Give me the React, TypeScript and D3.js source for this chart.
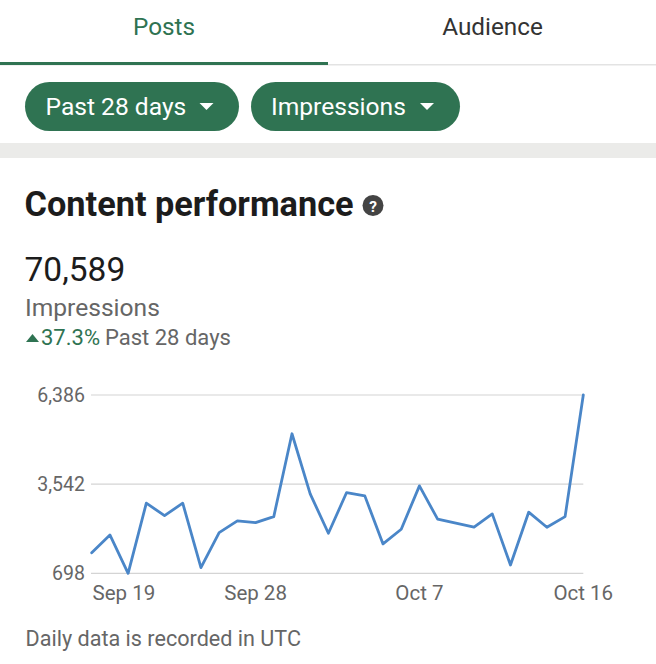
import React from "react";
import * as d3 from "d3";

const dates = [
  "Sep 19","Sep 20","Sep 21","Sep 22","Sep 23","Sep 24","Sep 25","Sep 26","Sep 27","Sep 28",
  "Sep 29","Sep 30","Oct 1","Oct 2","Oct 3","Oct 4","Oct 5","Oct 6","Oct 7","Oct 8",
  "Oct 9","Oct 10","Oct 11","Oct 12","Oct 13","Oct 14","Oct 15","Oct 16",
];
const impressions = [
  1356, 1922, 698, 2935, 2539, 2935, 877, 1995, 2369, 2315,
  2507, 5149, 3232, 1976, 3274, 3168, 1635, 2104, 3488, 2424,
  2296, 2168, 2593, 964, 2647, 2168, 2507, 6386,
];
const yTicks = [698, 3542, 6386];
const xTickLabels = ["Sep 19", "Sep 28", "Oct 7", "Oct 16"];

const FONT = "Roboto, 'Noto Sans', sans-serif";
const GREEN = "#2f7352";

export default function App() {
  const x = d3.scalePoint<string>().domain(dates).range([91.7, 583.3]);
  const y = d3.scaleLinear().domain([698, 6386]).range([573.3, 395]);
  const line = d3
    .line<number>()
    .x((_, i) => x(dates[i]) as number)
    .y((d) => y(d));
  const fmt = d3.format(",");

  return (
    <svg
      width={656}
      height={664}
      style={{ position: "absolute", left: 0, top: 0, fontFamily: FONT }}
    >
      <rect x={0} y={0} width={656} height={664} fill="#ffffff" />
      {/* Tabs */}
      <text x={164} y={35} textAnchor="middle" fontSize={24.3} fill={GREEN}>
        Posts
      </text>
      <text x={492.5} y={35} textAnchor="middle" fontSize={24.3} fill="#333333">
        Audience
      </text>
      <rect x={0} y={64} width={656} height={1.5} fill="#e3e3e3" />
      <rect x={0} y={62} width={328} height={3} fill={GREEN} />

      {/* Pills */}
      <rect x={25} y={82} width={214} height={49} rx={24.5} fill={GREEN} />
      <text x={45.5} y={115} fontSize={24.6} fill="#ffffff">
        Past 28 days
      </text>
      <path d="M199.5,103 L213.5,103 L206.5,110 Z" fill="#ffffff" />
      <rect x={251} y={82} width={209} height={49} rx={24.5} fill={GREEN} />
      <text x={271} y={115} fontSize={24.6} fill="#ffffff">
        Impressions
      </text>
      <path d="M420,103 L434,103 L427,110 Z" fill="#ffffff" />

      {/* Gray band */}
      <rect x={0} y={143} width={656} height={15} fill="#ebebe9" />

      {/* Header */}
      <text x={24.5} y={215.5} fontSize={34.3} fontWeight="bold" fill="#1c1c1c">
        Content performance
      </text>
      <circle cx={373} cy={205.5} r={10.5} fill="#444444" />
      <text x={373} y={211.5} textAnchor="middle" fontSize={15.5} fontWeight="bold" fill="#ffffff">
        ?
      </text>

      <text x={24.5} y={281} fontSize={33.5} fill="#1c1c1c">
        70,589
      </text>
      <text x={25} y={316} fontSize={24.6} fill="#666666">
        Impressions
      </text>
      <path d="M26,342 L39,342 L32.5,334 Z" fill={GREEN} />
      <text x={41} y={344.5} fontSize={22} fill={GREEN}>
        37.3%
      </text>
      <text x={105} y={344.5} fontSize={22} fill="#666666">
        Past 28 days
      </text>

      {/* Grid + y labels */}
      {yTicks.map((t) => (
        <g key={t}>
          <line
            x1={91}
            x2={583.3}
            y1={y(t)}
            y2={y(t)}
            stroke="#d4d4d4"
            strokeWidth={1.2}
          />
          <text
            x={85}
            y={y(t)}
            dy="0.35em"
            textAnchor="end"
            fontSize={19.5}
            fill="#666666"
          >
            {fmt(t)}
          </text>
        </g>
      ))}

      {/* X labels */}
      {xTickLabels.map((lab, i) => (
        <text
          key={lab}
          x={i === 0 ? 92.5 : (x(lab) as number)}
          y={600}
          textAnchor={i === 0 ? "start" : "middle"}
          fontSize={20.5}
          fill="#666666"
        >
          {lab}
        </text>
      ))}

      {/* Line */}
      <path
        d={line(impressions) || ""}
        fill="none"
        stroke="#4a86c8"
        strokeWidth={2.8}
        strokeLinejoin="round"
        strokeLinecap="round"
      />

      <text x={25.5} y={646} fontSize={21.6} fill="#666666">
        Daily data is recorded in UTC
      </text>
    </svg>
  );
}
